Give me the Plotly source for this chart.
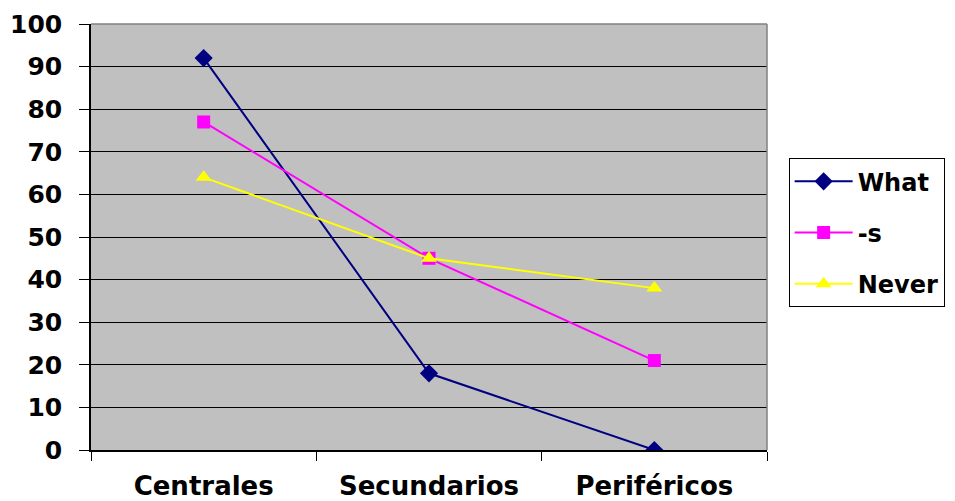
import plotly.graph_objects as go

categories = ["Centrales", "Secundarios", "Periféricos"]
what_vals = [92, 18, 0]
s_vals = [77, 45, 21]
never_vals = [64, 45, 38]
y_ticks = [0, 10, 20, 30, 40, 50, 60, 70, 80, 90, 100]

FONT = "DejaVu Sans"

fig = go.Figure()
series = [
    ("What", what_vals, "#000080", "diamond", 14),
    ("-s", s_vals, "#FF00FF", "square", 13),
    ("Never", never_vals, "#FFFF00", "triangle-up", 14),
]
for i, (name, vals, color, sym, sz) in enumerate(series):
    fig.add_trace(go.Scatter(
        x=categories, y=vals, name=name, mode="lines+markers",
        line=dict(color=color, width=2),
        marker=dict(symbol=sym, size=sz, color=color),
        legendgroup=f"g{i}",
    ))

fig.update_layout(
    width=955, height=501,
    margin=dict(l=83, r=196, t=16, b=59, autoexpand=False),
    paper_bgcolor="white",
    plot_bgcolor="#C0C0C0",
    font=dict(family=FONT, color="black"),
    showlegend=True,
    legend=dict(
        x=1.032, xanchor="left", y=0.685, yanchor="top",
        bordercolor="black", borderwidth=1, bgcolor="white",
        font=dict(size=24, family=FONT, color="black", weight="bold"),
        traceorder="grouped", tracegroupgap=17,
        itemwidth=58,
    ),
    shapes=[
        dict(type="line", xref="paper", yref="paper", x0=0, x1=1, y0=1, y1=1,
             line=dict(color="#808080", width=1.5)),
        dict(type="line", xref="paper", yref="paper", x0=1, x1=1, y0=0, y1=1,
             line=dict(color="#808080", width=1.5)),
    ],
)
fig.update_xaxes(
    type="category", range=[-0.5, 2.5], automargin=False,
    showline=True, linecolor="black", linewidth=1.5,
    ticks="outside", tickson="boundaries", ticklen=9, tickcolor="black",
    showgrid=False,
    tickfont=dict(size=26, family=FONT, weight="bold"),
    ticklabelstandoff=12,
)
fig.update_yaxes(
    range=[0, 100], tickvals=y_ticks, automargin=False,
    showline=True, linecolor="black", linewidth=1.5,
    ticks="outside", ticklen=10, tickcolor="black",
    showgrid=True, gridcolor="black", gridwidth=1,
    zeroline=False,
    tickfont=dict(size=25, family=FONT, weight="bold"),
    ticklabelstandoff=12,
)

fig.write_html("out.html")
